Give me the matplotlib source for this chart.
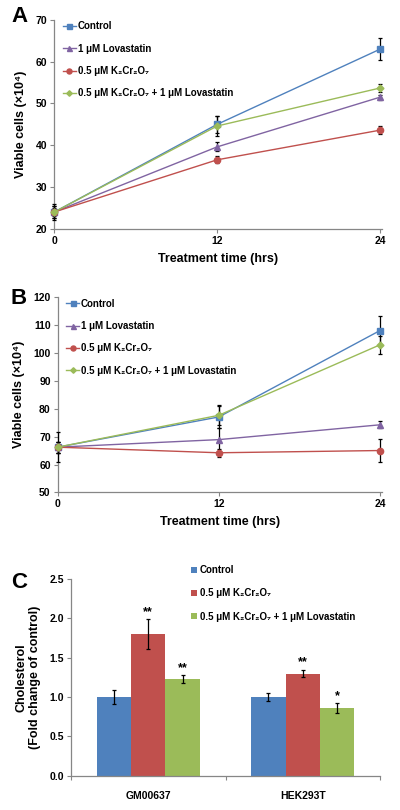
import matplotlib

matplotlib.use("Agg")
import matplotlib.pyplot as plt
import numpy as np

plt.rcParams["font.family"] = ["Liberation Sans", "DejaVu Sans"]
plt.rcParams["font.weight"] = "bold"

# ---- data -------------------------------------------------------------
time_hrs = [0, 12, 24]

a_control = [24.0, 45.0, 63.0]
a_control_err = [2.0, 2.1, 2.6]
a_lova = [24.0, 39.6, 51.5]
a_lova_err = [1.5, 1.1, 0.6]
a_k2cr = [24.0, 36.5, 43.6]
a_k2cr_err = [1.0, 0.8, 1.0]
a_combo = [24.0, 44.6, 53.7]
a_combo_err = [1.5, 2.3, 1.0]

b_control = [66.2, 77.0, 107.9]
b_control_err = [5.3, 3.8, 5.3]
b_lova = [66.2, 68.9, 74.2]
b_lova_err = [2.0, 4.0, 1.2]
b_k2cr = [66.2, 64.2, 65.0]
b_k2cr_err = [2.0, 1.5, 4.0]
b_combo = [66.2, 77.6, 102.8]
b_combo_err = [2.0, 3.5, 3.3]

cell_lines = ["GM00637", "HEK293T"]
c_control = [1.0, 1.0]
c_control_err = [0.09, 0.05]
c_k2cr = [1.80, 1.30]
c_k2cr_err = [0.19, 0.045]
c_combo = [1.23, 0.86]
c_combo_err = [0.05, 0.06]
c_k2cr_stars = ["**", "**"]
c_combo_stars = ["**", "*"]

LBL_CTRL = "Control"
LBL_LOVA = "1 μM Lovastatin"
LBL_K2CR = "0.5 μM K₂Cr₂O₇"
LBL_COMBO = "0.5 μM K₂Cr₂O₇ + 1 μM Lovastatin"

BLUE, PURPLE, RED, GREEN = "#4F81BD", "#8064A2", "#C0504D", "#9BBB59"
SPINE = "#868686"


def style_axes(ax):
    for side in ("top", "right"):
        ax.spines[side].set_visible(False)
    for side in ("left", "bottom"):
        ax.spines[side].set_color(SPINE)
        ax.spines[side].set_linewidth(0.9)
    ax.tick_params(direction="out", length=3, width=0.8, color=SPINE,
                   labelsize=7.5, pad=2)
    for lab in ax.get_xticklabels() + ax.get_yticklabels():
        lab.set_fontweight("bold")


def line_panel(ax, series, ylim, yticks):
    for vals, errs, label, color, marker, ms in series:
        ax.errorbar(time_hrs, vals, yerr=errs, color=color, lw=1.0,
                    marker=marker, ms=ms, mec=color, mfc=color,
                    ecolor="black", elinewidth=0.9, capsize=1.5,
                    capthick=0.9, label=label, clip_on=False, zorder=3)
    ax.set_xlim(0, 24.15)
    ax.set_ylim(*ylim)
    ax.set_xticks([0, 12, 24])
    ax.set_yticks(yticks)
    style_axes(ax)
    ax.set_xlabel("Treatment time (hrs)", fontsize=9, fontweight="bold",
                  labelpad=5)
    ax.set_ylabel("Viable cells (×10⁴)", fontsize=9, fontweight="bold",
                  labelpad=6)
    handles, labels = ax.get_legend_handles_labels()
    handles = [h[0] for h in handles]
    ax.legend(handles, labels, loc="upper left", bbox_to_anchor=(0.0, 1.035),
              frameon=False, prop={"size": 7, "weight": "bold"},
              handlelength=1.3, handletextpad=0.2, labelspacing=1.27,
              markerscale=0.8)


fig = plt.figure(figsize=(4.0, 8.1), dpi=100)

ax_a = fig.add_axes([0.136, 0.7177, 0.819, 0.2576])
line_panel(ax_a, [
    (a_control, a_control_err, LBL_CTRL, BLUE, "s", 4.5),
    (a_lova, a_lova_err, LBL_LOVA, PURPLE, "^", 4.5),
    (a_k2cr, a_k2cr_err, LBL_K2CR, RED, "o", 4.5),
    (a_combo, a_combo_err, LBL_COMBO, GREEN, "D", 3.5),
], (20, 70), np.arange(20, 71, 10))

ax_b = fig.add_axes([0.144, 0.392, 0.811, 0.2417])
line_panel(ax_b, [
    (b_control, b_control_err, LBL_CTRL, BLUE, "s", 4.5),
    (b_lova, b_lova_err, LBL_LOVA, PURPLE, "^", 4.5),
    (b_k2cr, b_k2cr_err, LBL_K2CR, RED, "o", 4.5),
    (b_combo, b_combo_err, LBL_COMBO, GREEN, "D", 3.5),
], (50, 120), np.arange(50, 121, 10))

# ---- panel C: bars ---------------------------------------------------
ax_c = fig.add_axes([0.1775, 0.0423, 0.7725, 0.2427])
x = np.arange(len(cell_lines))
w = 1 / 4.5
bar_sets = [
    (c_control, c_control_err, LBL_CTRL, BLUE, None),
    (c_k2cr, c_k2cr_err, LBL_K2CR, RED, c_k2cr_stars),
    (c_combo, c_combo_err, LBL_COMBO, GREEN, c_combo_stars),
]
for i, (vals, errs, label, color, stars) in enumerate(bar_sets):
    pos = x + (i - 1) * w
    ax_c.bar(pos, vals, width=w, color=color, label=label, zorder=2)
    ax_c.errorbar(pos, vals, yerr=errs, fmt="none", ecolor="black",
                  elinewidth=0.9, capsize=1.5, capthick=0.9, zorder=3)
    if stars:
        for p, v, e, s in zip(pos, vals, errs, stars):
            ax_c.annotate(s, (p, v + e), xytext=(0, 1),
                          textcoords="offset points", ha="center",
                          va="bottom", fontsize=9, fontweight="bold")

ax_c.set_xlim(-0.5, 1.5)
ax_c.set_ylim(0, 2.5)
ax_c.set_yticks(np.arange(0, 2.51, 0.5))
ax_c.set_yticklabels([f"{v:.1f}" for v in np.arange(0, 2.51, 0.5)])
ax_c.set_xticks([-0.5, 0.5, 1.5])
ax_c.set_xticklabels([])
ax_c.set_xticks(x, minor=True)
ax_c.set_xticklabels(cell_lines, minor=True, fontsize=7.5, fontweight="bold")
ax_c.tick_params(axis="x", which="minor", length=0, pad=11)
style_axes(ax_c)
ax_c.set_ylabel("Cholesterol\n(Fold change of control)", fontsize=9,
                fontweight="bold", labelpad=6)
ax_c.legend(loc="upper left", bbox_to_anchor=(0.36, 1.115), frameon=False,
            prop={"size": 7, "weight": "bold"}, handlelength=0.6,
            handleheight=0.6, handletextpad=0.3, labelspacing=1.35)

# panel letters
for letter, ypix in (("A", 17), ("B", 298), ("C", 582)):
    fig.text(19 / 400, 1 - ypix / 810, letter, fontsize=16,
             fontweight="bold", va="center", ha="center")

fig.savefig("out.png", dpi=100)
